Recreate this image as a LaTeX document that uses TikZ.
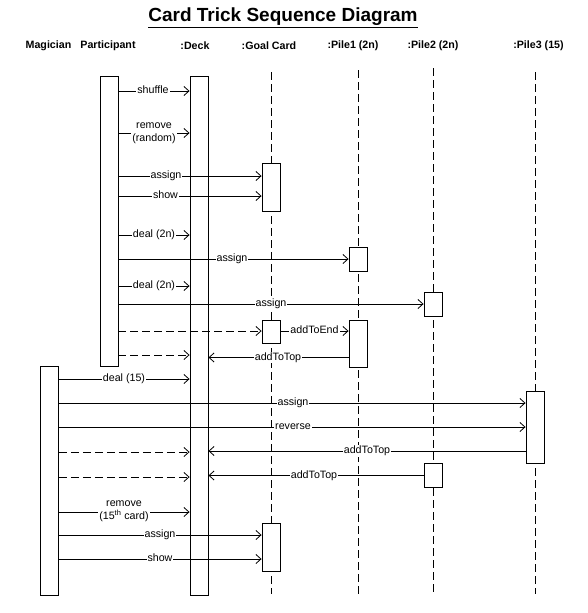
\documentclass[tikz,border=0pt]{standalone}
\usepackage{fontspec}
\setmainfont{Liberation Sans}
\usetikzlibrary{arrows.meta}
\begin{document}
\begin{tikzpicture}[x=1pt,y=-1pt,
  every node/.style={font=\fontsize{10.67}{12.8}\selectfont, text=black},
  hdr/.style={font=\fontsize{10.67}{12.8}\selectfont\bfseries, inner sep=0pt},
  actbox/.style={draw, fill=white, line width=0.9pt, minimum width=18pt, inner sep=0pt},
  life/.style={line width=0.9pt, dash pattern=on 8pt off 4pt},
  msg/.style={line width=0.8pt, -{Straight Barb[length=5pt,width=9pt,line width=0.8pt]}},
  ret/.style={msg, dash pattern=on 8pt off 4pt},
  lbltwo/.style={fill=white, inner sep=1pt, align=center},
  lbl/.style={lbltwo, text height=7.7pt, text depth=2.2pt}]
\useasboundingbox (0,0) rectangle (588,613);

% title and headers
\node[font=\fontsize{19}{22}\selectfont\bfseries] (title) at (283,18) {\underline{Card Trick Sequence Diagram}};
\node[hdr] (hMag) at (48.5,46) {Magician};
\node[hdr] (hPart) at (108,46) {Participant};
\node[hdr] (hDeck) at (195,46) {:Deck};
\node[hdr] (hGoal) at (269,46) {:Goal Card};
\node[hdr] (hP1) at (353,46) {:Pile1 (2n)};
\node[hdr] (hP2) at (433,46) {:Pile2 (2n)};
\node[hdr] (hP3) at (538.5,46) {:Pile3 (15)};

% lifelines
\coordinate (goalTop) at (271,72);  \coordinate (goalBot) at (271,594);
\coordinate (p1Top) at (358,70);    \coordinate (p1Bot) at (358,594);
\coordinate (p2Top) at (433,68);    \coordinate (p2Bot) at (433,594);
\coordinate (p3Top) at (535,72);    \coordinate (p3Bot) at (535,594);
\draw[life] (goalTop) -- (goalBot);
\draw[life] (p1Top) -- (p1Bot);
\draw[life] (p2Top) -- (p2Bot);
\draw[life] (p3Top) -- (p3Bot);

% activation boxes
\node[actbox, minimum height=290pt] (partbox) at (109,221) {};
\node[actbox, minimum height=519pt] (deckbox) at (199,335.5) {};
\node[actbox, minimum height=48pt] (goal1) at (271,187) {};
\node[actbox, minimum height=23pt] (goal2) at (271,331.5) {};
\node[actbox, minimum height=48pt] (goal3) at (271,547) {};
\node[actbox, minimum height=24pt] (p1a) at (358,259) {};
\node[actbox, minimum height=47pt] (p1b) at (358,343.5) {};
\node[actbox, minimum height=24pt] (p2a) at (433,304) {};
\node[actbox, minimum height=24pt] (p2b) at (433,475) {};
\node[actbox, minimum height=72pt] (p3box) at (535,427) {};
\node[actbox, minimum height=229pt] (magbox) at (49.5,480.5) {};

% messages: Participant phase
\draw[msg] (partbox.east |- 0,91) -- (deckbox.west |- 0,91);
\node[lbl] (l1) at (153,91) {shuffle};
\draw[msg] (partbox.east |- 0,133) -- (deckbox.west |- 0,133);
\node[lbltwo] (l2) at (154,133.5) {remove\\(random)};
\draw[msg] (partbox.east |- 0,176) -- (goal1.west |- 0,176);
\node[lbl] (l3) at (166,176) {assign};
\draw[msg] (partbox.east |- 0,196) -- (goal1.west |- 0,196);
\node[lbl] (l4) at (165.5,196) {show};
\draw[msg] (partbox.east |- 0,235) -- (deckbox.west |- 0,235);
\node[lbl] (l5) at (154,235) {deal (2n)};
\draw[msg] (partbox.east |- 0,259) -- (p1a.west |- 0,259);
\node[lbl] (l6) at (232,259) {assign};
\draw[msg] (partbox.east |- 0,286) -- (deckbox.west |- 0,286);
\node[lbl] (l7) at (154,286) {deal (2n)};
\draw[msg] (partbox.east |- 0,304) -- (p2a.west |- 0,304);
\node[lbl] (l8) at (271,304) {assign};
\draw[ret] (partbox.east |- 0,331) -- (goal2.west |- 0,331);
\draw[msg] (goal2.east |- 0,331) -- (p1b.west |- 0,331);
\node[lbl] (l9) at (314.5,331) {addToEnd};
\draw[ret] (partbox.east |- 0,355) -- (deckbox.west |- 0,355);
\draw[msg] (p1b.west |- 0,357.5) -- (deckbox.east |- 0,357.5);
\node[lbl] (l10) at (278,357.5) {addToTop};

% messages: Magician phase
\draw[msg] (magbox.east |- 0,379) -- (deckbox.west |- 0,379);
\node[lbl] (l11) at (124,379) {deal (15)};
\draw[msg] (magbox.east |- 0,403) -- (p3box.west |- 0,403);
\node[lbl] (l12) at (293,403) {assign};
\draw[msg] (magbox.east |- 0,427) -- (p3box.west |- 0,427);
\node[lbl] (l13) at (293,427) {reverse};
\draw[ret] (magbox.east |- 0,452) -- (deckbox.west |- 0,452);
\draw[msg] (p3box.west |- 0,451) -- (deckbox.east |- 0,451);
\node[lbl] (l14) at (367,451) {addToTop};
\draw[ret] (magbox.east |- 0,477) -- (deckbox.west |- 0,477);
\draw[msg] (p2b.west |- 0,475.5) -- (deckbox.east |- 0,475.5);
\node[lbl] (l15) at (314,475.5) {addToTop};
\draw[msg] (magbox.east |- 0,512) -- (deckbox.west |- 0,512);
\node[lbltwo] (l16) at (124,511) {remove\\(15\textsuperscript{th} card)};
\draw[msg] (magbox.east |- 0,535) -- (goal3.west |- 0,535);
\node[lbl] (l17) at (160,535) {assign};
\draw[msg] (magbox.east |- 0,559) -- (goal3.west |- 0,559);
\node[lbl] (l18) at (160,559) {show};
\end{tikzpicture}
\end{document}
